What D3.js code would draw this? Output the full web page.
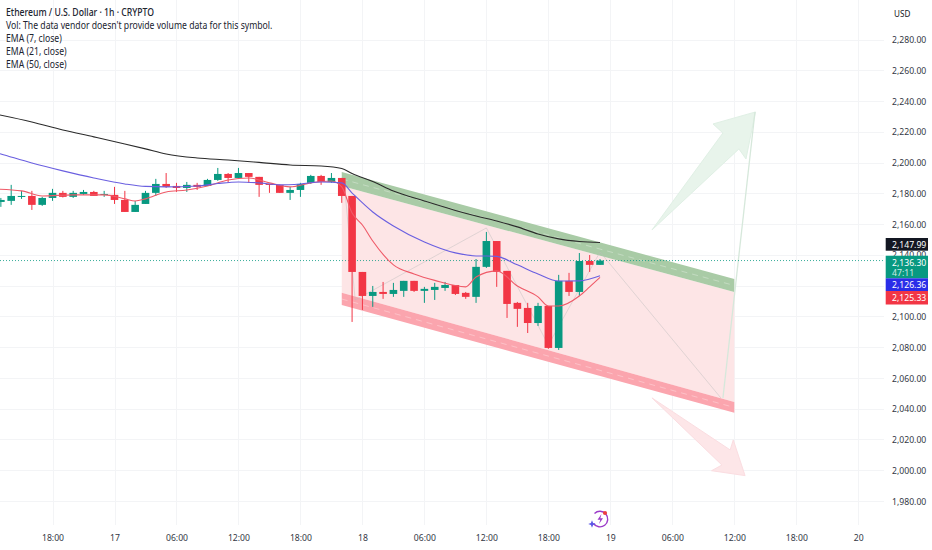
<!DOCTYPE html>
<html><head><meta charset="utf-8">
<script src="https://cdn.jsdelivr.net/npm/d3@7"></script>
<style>
html,body{margin:0;padding:0;background:#fff;overflow:hidden}
svg{display:block}
text{font-family:"Noto Sans","Open Sans",sans-serif;fill:#131722}
</style></head><body>
<svg id="c" width="932" height="550"></svg>
<script>
// Candles: hourly, hours counted from 17 00:00
const firstHour = -11;
const opens  = [2174.4,2175.1,2177.7,2178.3,2172.5,2177.0,2180.3,2177.7,2179.6,2180.9,2179.0,2179.0,2175.7,2167.9,2173.1,2180.3,2186.1,2184.8,2183.5,2185.5,2184.8,2188.7,2192.6,2190.0,2193.2,2190.7,2186.1,2185.5,2180.3,2182.2,2186.8,2191.3,2187.4,2190.0,2178.3,2128.9,2113.3,2115.9,2114.6,2116.6,2123.1,2116.6,2117.2,2118.5,2120.4,2115.3,2112.7,2132.2,2149.0,2129.6,2108.8,2105.5,2095.7,2106.8,2079.5,2123.1,2115.9,2136.0,2133.5];
const highs  = [2177.0,2185.5,2181.6,2181.6,2177.7,2182.9,2181.6,2181.6,2182.2,2181.6,2181.6,2184.2,2181.6,2175.1,2181.6,2189.4,2193.2,2186.8,2187.4,2186.8,2189.4,2196.5,2193.2,2196.5,2193.2,2190.7,2186.1,2185.5,2184.2,2186.8,2192.0,2192.0,2193.2,2190.0,2178.3,2128.9,2119.8,2122.4,2121.8,2123.1,2123.1,2119.2,2121.8,2122.4,2120.4,2115.9,2137.3,2154.9,2149.0,2129.6,2109.4,2108.8,2108.8,2106.8,2127.0,2128.3,2141.2,2139.9,2137.3];
const lows   = [2171.2,2172.5,2176.4,2169.2,2171.8,2175.1,2177.3,2177.0,2179.0,2178.3,2177.7,2173.1,2167.9,2167.9,2173.1,2178.3,2183.5,2180.9,2180.9,2182.2,2184.8,2188.1,2186.8,2189.4,2186.8,2177.7,2180.3,2180.3,2175.7,2177.7,2186.1,2185.5,2186.8,2173.8,2096.4,2104.2,2106.2,2111.4,2112.7,2112.7,2115.9,2108.8,2110.7,2116.6,2113.9,2111.4,2108.8,2131.5,2119.2,2099.0,2093.2,2089.2,2093.8,2078.9,2078.2,2113.3,2113.3,2128.9,2133.5];
const closes = [2175.7,2178.3,2178.3,2172.5,2177.0,2180.3,2177.7,2180.3,2180.9,2178.3,2179.6,2175.7,2167.9,2172.5,2180.3,2186.1,2184.2,2183.5,2185.5,2184.2,2188.7,2192.6,2190.0,2193.2,2190.7,2185.5,2185.5,2180.3,2182.2,2186.1,2191.3,2187.4,2190.0,2178.3,2128.9,2113.3,2115.9,2114.6,2117.2,2123.1,2116.6,2117.9,2119.2,2120.4,2114.6,2112.7,2132.2,2149.0,2128.9,2108.1,2104.9,2095.7,2106.8,2079.5,2123.1,2115.9,2136.0,2133.5,2136.3];

// Moving averages
const ema50Hours  = [-12,-8,-5,-2,1,3,5,8,11,14,17,20,22,23,25,27,30,33,35,37,39,41,43,45,47];
const ema50Values = [2232.2,2226.4,2221.2,2216.7,2212.1,2208.9,2205.6,2203.0,2201.7,2200.1,2198.4,2197.8,2196.2,2192.9,2187.7,2181.5,2175.0,2168.9,2165.3,2162.0,2158.2,2153.6,2150.4,2148.7,2147.99];
const ema21Hours  = [-12,-11,-8,-5,-2,1,3,5,8,10,12,14,16,18,20,22,23,25,27,30,33,35,36,37,39,41,43,45,47];
const ema21Values = [2207.5,2205.6,2199.7,2194.6,2190.0,2186.1,2184.5,2184.2,2184.8,2186.4,2187.4,2186.8,2185.5,2186.1,2187.4,2186.8,2180.2,2167.9,2158.8,2148.4,2141.3,2139.3,2139.3,2139.0,2133.5,2127.6,2123.0,2123.1,2126.36];
const ema7Hours   = [-12,-9,-7,-4,-1,1,2,3,5,7,9,11,13,15,17,19,21,22,23,24,25,27,29,31,34,35,37,39,41,42,43,45,46,47];
const ema7Values  = [2182.9,2181.6,2178.3,2179.0,2179.0,2176.4,2175.0,2176.4,2180.9,2182.2,2184.8,2188.7,2190.0,2186.8,2184.2,2186.8,2188.0,2184.2,2167.2,2159.4,2149.0,2133.5,2127.6,2123.4,2119.2,2125.6,2129.6,2119.8,2112.7,2106.8,2106.8,2113.3,2119.2,2125.33];

// Drawn annotations, as [hour, price]
const stopBand   = [[22,2193.9],[60,2124.3],[60,2115.9],[22,2184.8]];
const targetZone = [[22,2184.8],[60,2115.9],[60,2044.4],[22,2115.3]];
const lowBand    = [[22,2115.3],[60,2044.4],[60,2037.3],[22,2107.4]];
const stopMid    = [[22,2189.3],[60,2120.1]];
const lowMid     = [[22,2111.3],[60,2040.8]];
const zigzag     = [[22.3,2182.2],[23.3,2110.7],[36,2157.5],[42,2081.4],[47,2141.9],[58.7,2047.0]];
const riseLine   = [[58.9,2047.0],[62,2232.9]];
const upArrow    = [[52.03,2156.2],[58.9,2219.25],[57.94,2225.1],[62.05,2232.9],[61.13,2202.35],[60.45,2208.85]];
const downArrow  = [[52.03,2047.0],[59.6,2013.2],[59.9,2019.7],[61.04,1996.5],[57.8,1999.7],[58.8,2003.4]];

// Axis labels
const priceTicks = [2280,2260,2240,2220,2200,2180,2160,2140,2120,2100,2080,2060,2040,2020,2000,1980];
const timeHours  = [-6,0,6,12,18,24,30,36,42,48,54,60,66,72];
const timeLabels = ["18:00","17","06:00","12:00","18:00","18","06:00","12:00","18:00","19","06:00","12:00","18:00","20"];
const legendLines = ["Ethereum / U.S. Dollar · 1h · CRYPTO","Vol: The data vendor doesn't provide volume data for this symbol.","EMA (7, close)","EMA (21, close)","EMA (50, close)"];
const priceTags = [
  {value:2147.99,label:"2,147.99",color:"#131722"},
  {value:2136.30,label:"2,136.30",color:"#089981",extra:"47:11"},
  {value:2126.36,label:"2,126.36",color:"#2a2ee8"},
  {value:2125.33,label:"2,125.33",color:"#f23645"}];

const paneRight = 884, paneBottom = 525;
const x = d3.scaleLinear().domain([0,60]).range([114.5,734.3]);
const y = d3.scaleLinear().domain([2280,1980]).range([39.5,501]);
const svg = d3.select("#c");
const up = "#089981", down = "#f23645";
const pts = a => a.map(d => [x(d[0]),y(d[1])].join(",")).join(" ");
// squeeze text horizontally to the reference's narrow letterforms
function fit(sel,size,k){
  sel.attr("font-size",size).style("font-size",size+"px").each(function(){
    const n=this; n.setAttribute("textLength",(n.getComputedTextLength()*k).toFixed(1));
    n.setAttribute("lengthAdjust","spacingAndGlyphs");
  });
}

svg.append("defs").append("clipPath").attr("id","pane").append("rect")
  .attr("width",paneRight).attr("height",paneBottom);

// grid
const grid = svg.append("g").attr("stroke","#f3f4f6").attr("stroke-width",1);
grid.selectAll(".h").data(priceTicks).join("line").attr("x1",0).attr("x2",paneRight)
  .attr("y1",d=>Math.round(y(d))+.5).attr("y2",d=>Math.round(y(d))+.5);
grid.selectAll(".v").data(timeHours).join("line").attr("y1",0).attr("y2",paneBottom)
  .attr("x1",d=>Math.round(x(d))+.5).attr("x2",d=>Math.round(x(d))+.5);

const pane = svg.append("g").attr("clip-path","url(#pane)");

// annotations under candles
pane.append("polygon").attr("points",pts(targetZone)).attr("fill","#fde5e6");
pane.append("polygon").attr("points",pts(stopBand)).attr("fill","#a9cba6");
pane.append("polygon").attr("points",pts(lowBand)).attr("fill","#fba5ae");
[stopMid,lowMid].forEach(m=>pane.append("polyline").attr("points",pts(m)).attr("fill","none")
  .attr("stroke","#fff").attr("stroke-opacity",.3).attr("stroke-dasharray","6 5"));
pane.append("polygon").attr("points",pts(upArrow)).attr("fill","#e8f4eb").attr("stroke","#e0f0e5").attr("stroke-width",1);
pane.append("polygon").attr("points",pts(downArrow)).attr("fill","#fde6e8").attr("stroke","#fbdde1").attr("stroke-width",1);
pane.append("polyline").attr("points",pts(zigzag)).attr("fill","none").attr("stroke","#bdbdbd").attr("stroke-opacity",.45);
pane.append("polyline").attr("points",pts(riseLine)).attr("fill","none").attr("stroke","#d6e8db").attr("stroke-width",1.3);

// last price line
pane.append("line").attr("x1",0).attr("x2",paneRight).attr("y1",y(2136.3)).attr("y2",y(2136.3))
  .attr("stroke",up).attr("stroke-dasharray","1 2").attr("stroke-opacity",.8);

// candles
const candles = d3.range(closes.length).map(i=>({h:firstHour+i,o:opens[i],c:closes[i],hi:highs[i],lo:lows[i]}));
const cg = pane.append("g");
cg.selectAll(".wick").data(candles).join("line")
  .attr("x1",d=>x(d.h)).attr("x2",d=>x(d.h)).attr("y1",d=>y(d.hi)).attr("y2",d=>y(d.lo))
  .attr("stroke",d=>d.c>=d.o?up:down).attr("stroke-width",1);
cg.selectAll(".body").data(candles).join("rect")
  .attr("x",d=>x(d.h)-3.8).attr("width",7.6)
  .attr("y",d=>y(Math.max(d.o,d.c))).attr("height",d=>Math.max(1,Math.abs(y(d.o)-y(d.c))))
  .attr("fill",d=>d.c>=d.o?up:down);

// EMAs
const line = d3.line().x(d=>x(d[0])).y(d=>y(d[1])).curve(d3.curveMonotoneX);
[[ema7Hours,ema7Values,"#ef5a68"],[ema21Hours,ema21Values,"#6a5fe0"],[ema50Hours,ema50Values,"#2b2b2b"]].forEach(([hs,vs,col])=>{
  pane.append("path").attr("d",line(hs.map((h,i)=>[h,vs[i]]))).attr("fill","none").attr("stroke",col).attr("stroke-width",1.1);
});

// axes
const yAxis = svg.append("g").attr("transform",`translate(892,0)`)
  .call(d3.axisRight(y).tickValues(priceTicks).tickSize(0).tickPadding(0).tickFormat(d3.format(",.2f")));
yAxis.select(".domain").remove();
yAxis.selectAll("text").attr("font-family",null).style("fill","#333845").call(fit,9.6,.9);
const xAxis = svg.append("g").attr("transform",`translate(0,534)`)
  .call(d3.axisBottom(x).tickValues(timeHours).tickSize(0).tickPadding(0).tickFormat((d,i)=>timeLabels[i]));
xAxis.select(".domain").remove();
xAxis.selectAll("text").attr("font-family",null).style("fill","#333845").call(fit,9.6,.9);

svg.append("text").attr("x",894).attr("y",16.5).text("USD").call(fit,8.8,.92);

// legend
svg.selectAll(".lg").data(legendLines).join("text").attr("x",6)
  .attr("y",(d,i)=>16.4+i*12.85)
  .attr("font-weight",(d,i)=>i===0?500:400).style("fill","#20242f").text(d=>d).call(fit,10,.865);

// price tags
const tagTop = {2147.99:238,2136.3:255.7,2126.36:278.3,2125.33:291};
const tagH = {2147.99:12.7,2136.3:22.6,2126.36:12.7,2125.33:13.5};
priceTags.forEach(t=>{
  const g = svg.append("g");
  g.append("rect").attr("x",885.7).attr("width",42.3).attr("y",tagTop[t.value]).attr("height",tagH[t.value]).attr("fill",t.color);
  g.append("text").attr("x",892).attr("y",tagTop[t.value]+9.8).style("fill","#fff").text(t.label).call(fit,9.6,.9);
  if(t.extra) g.append("text").attr("x",892).attr("y",tagTop[t.value]+20.4).style("fill","#cfeee6").text(t.extra).call(fit,9.6,.9);
});

// logo
const logo = svg.append("g").attr("transform","translate(600,519)");
logo.append("path").attr("d","M-5.5,-5.5A7.8,7.8 0 1 1 -6.5,4.5").attr("fill","none").attr("stroke","#9c3bc9").attr("stroke-width",1.4);
logo.append("path").attr("d","M1.5,-5L-2.5,0.8H0.3L-1,5L3,-0.8H0.3Z").attr("fill","#9c3bc9");
logo.append("circle").attr("cx",5).attr("cy",-6).attr("r",2.1).attr("fill","#ee3f3f");
logo.append("path").attr("d","M-8,1.2L-6.9,3.9L-4.2,5L-6.9,6.1L-8,8.8L-9.1,6.1L-11.8,5L-9.1,3.9Z").attr("fill","#5b57e6");
</script>
</body></html>
